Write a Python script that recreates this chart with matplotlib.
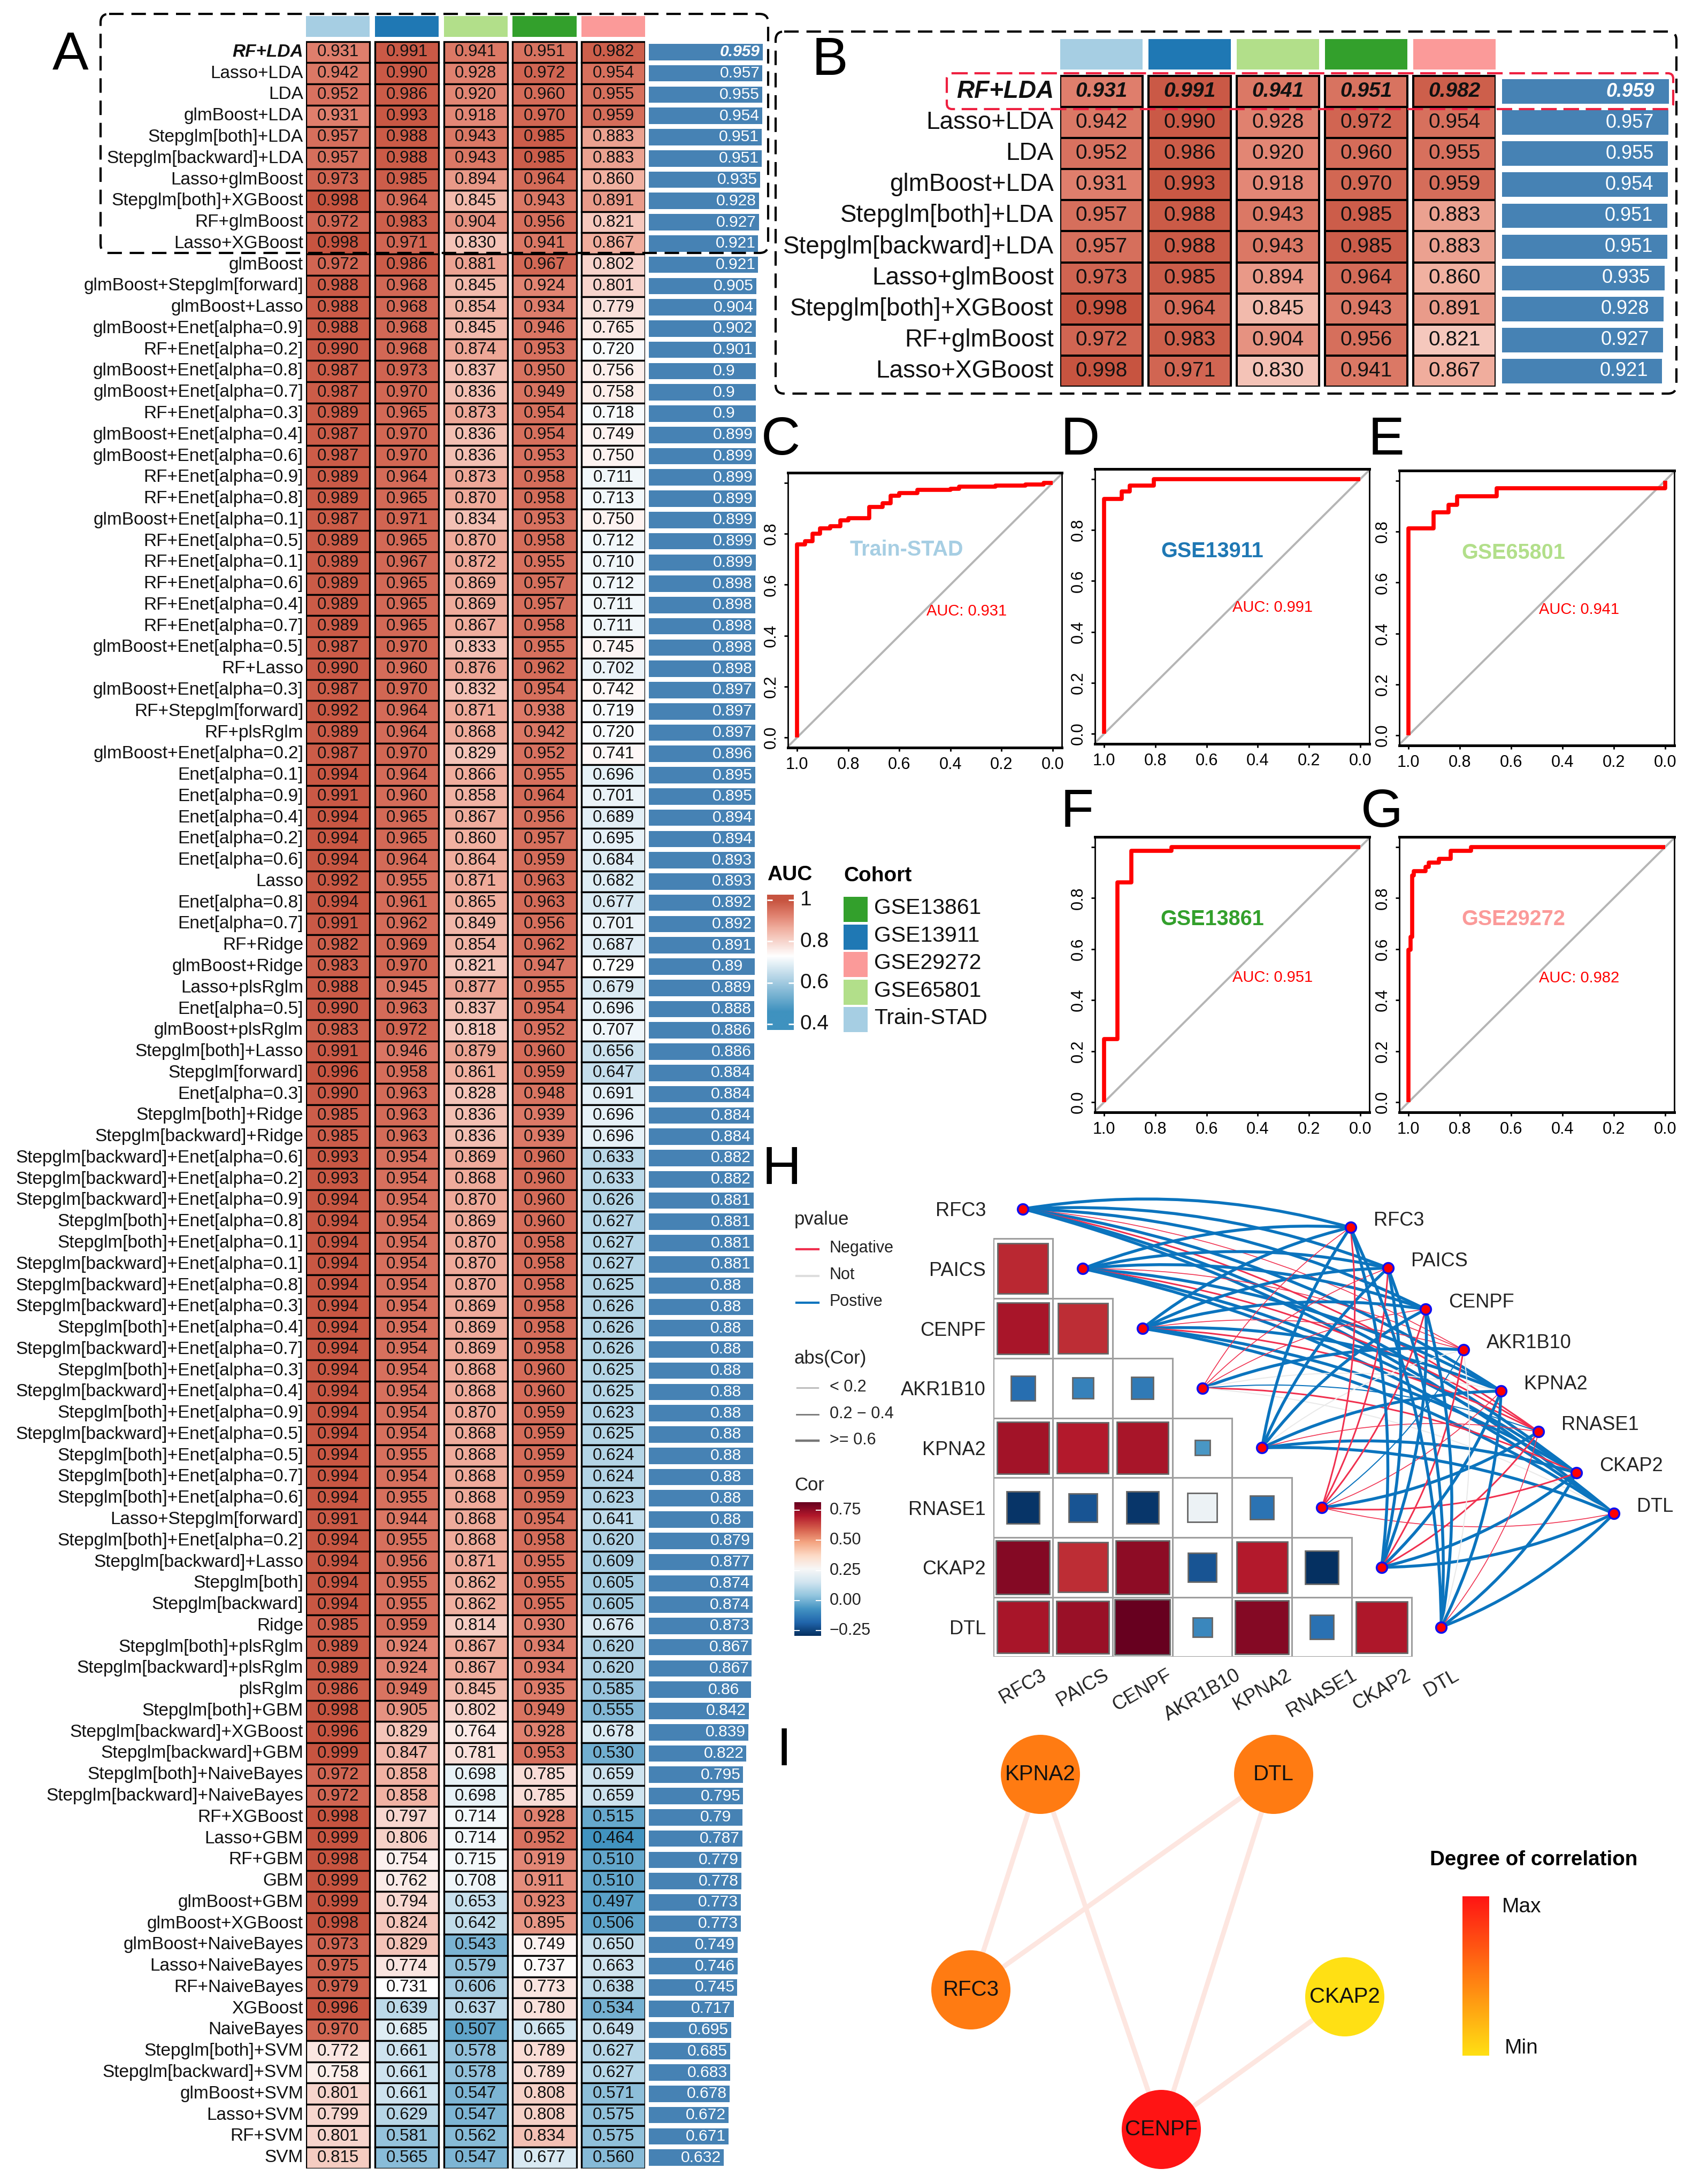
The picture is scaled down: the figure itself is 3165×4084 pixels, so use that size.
import matplotlib
matplotlib.use('Agg')
import matplotlib.pyplot as plt
import numpy as np
from matplotlib.colors import LinearSegmentedColormap, Normalize
from matplotlib.patches import Rectangle, FancyBboxPatch, PathPatch, Circle
from matplotlib.path import Path

plt.rcParams['font.family'] = ['Liberation Sans', 'DejaVu Sans']

W, H = 3165, 4084
PX = 72 / 100  # one pixel in points at dpi=100

# Panel A / B data
models = [
    'RF+LDA', 'Lasso+LDA', 'LDA', 'glmBoost+LDA', 'Stepglm[both]+LDA', 'Stepglm[backward]+LDA',
    'Lasso+glmBoost', 'Stepglm[both]+XGBoost', 'RF+glmBoost', 'Lasso+XGBoost', 'glmBoost',
    'glmBoost+Stepglm[forward]', 'glmBoost+Lasso', 'glmBoost+Enet[alpha=0.9]', 'RF+Enet[alpha=0.2]',
    'glmBoost+Enet[alpha=0.8]', 'glmBoost+Enet[alpha=0.7]', 'RF+Enet[alpha=0.3]', 'glmBoost+Enet[alpha=0.4]',
    'glmBoost+Enet[alpha=0.6]', 'RF+Enet[alpha=0.9]', 'RF+Enet[alpha=0.8]', 'glmBoost+Enet[alpha=0.1]',
    'RF+Enet[alpha=0.5]', 'RF+Enet[alpha=0.1]', 'RF+Enet[alpha=0.6]', 'RF+Enet[alpha=0.4]', 'RF+Enet[alpha=0.7]',
    'glmBoost+Enet[alpha=0.5]', 'RF+Lasso', 'glmBoost+Enet[alpha=0.3]', 'RF+Stepglm[forward]', 'RF+plsRglm',
    'glmBoost+Enet[alpha=0.2]', 'Enet[alpha=0.1]', 'Enet[alpha=0.9]', 'Enet[alpha=0.4]', 'Enet[alpha=0.2]',
    'Enet[alpha=0.6]', 'Lasso', 'Enet[alpha=0.8]', 'Enet[alpha=0.7]', 'RF+Ridge', 'glmBoost+Ridge', 'Lasso+plsRglm',
    'Enet[alpha=0.5]', 'glmBoost+plsRglm', 'Stepglm[both]+Lasso', 'Stepglm[forward]', 'Enet[alpha=0.3]',
    'Stepglm[both]+Ridge', 'Stepglm[backward]+Ridge', 'Stepglm[backward]+Enet[alpha=0.6]',
    'Stepglm[backward]+Enet[alpha=0.2]', 'Stepglm[backward]+Enet[alpha=0.9]', 'Stepglm[both]+Enet[alpha=0.8]',
    'Stepglm[both]+Enet[alpha=0.1]', 'Stepglm[backward]+Enet[alpha=0.1]', 'Stepglm[backward]+Enet[alpha=0.8]',
    'Stepglm[backward]+Enet[alpha=0.3]', 'Stepglm[both]+Enet[alpha=0.4]', 'Stepglm[backward]+Enet[alpha=0.7]',
    'Stepglm[both]+Enet[alpha=0.3]', 'Stepglm[backward]+Enet[alpha=0.4]', 'Stepglm[both]+Enet[alpha=0.9]',
    'Stepglm[backward]+Enet[alpha=0.5]', 'Stepglm[both]+Enet[alpha=0.5]', 'Stepglm[both]+Enet[alpha=0.7]',
    'Stepglm[both]+Enet[alpha=0.6]', 'Lasso+Stepglm[forward]', 'Stepglm[both]+Enet[alpha=0.2]',
    'Stepglm[backward]+Lasso', 'Stepglm[both]', 'Stepglm[backward]', 'Ridge', 'Stepglm[both]+plsRglm',
    'Stepglm[backward]+plsRglm', 'plsRglm', 'Stepglm[both]+GBM', 'Stepglm[backward]+XGBoost', 'Stepglm[backward]+GBM',
    'Stepglm[both]+NaiveBayes', 'Stepglm[backward]+NaiveBayes', 'RF+XGBoost', 'Lasso+GBM', 'RF+GBM', 'GBM',
    'glmBoost+GBM', 'glmBoost+XGBoost', 'glmBoost+NaiveBayes', 'Lasso+NaiveBayes', 'RF+NaiveBayes', 'XGBoost',
    'NaiveBayes', 'Stepglm[both]+SVM', 'Stepglm[backward]+SVM', 'glmBoost+SVM', 'Lasso+SVM', 'RF+SVM', 'SVM']

auc_train = [
    .931, .942, .952, .931, .957, .957, .973, .998, .972, .998, .972, .988, .988, .988, .990, .987, .987, .989, .987, .987,
    .989, .989, .987, .989, .989, .989, .989, .989, .987, .990, .987, .992, .989, .987, .994, .991, .994, .994, .994, .992,
    .994, .991, .982, .983, .988, .990, .983, .991, .996, .990, .985, .985, .993, .993, .994, .994, .994, .994, .994, .994,
    .994, .994, .994, .994, .994, .994, .994, .994, .994, .991, .994, .994, .994, .994, .985, .989, .989, .986, .998, .996,
    .999, .972, .972, .998, .999, .998, .999, .999, .998, .973, .975, .979, .996, .970, .772, .758, .801, .799, .801, .815]
auc_13911 = [
    .991, .990, .986, .993, .988, .988, .985, .964, .983, .971, .986, .968, .968, .968, .968, .973, .970, .965, .970, .970,
    .964, .965, .971, .965, .967, .965, .965, .965, .970, .960, .970, .964, .964, .970, .964, .960, .965, .965, .964, .955,
    .961, .962, .969, .970, .945, .963, .972, .946, .958, .963, .963, .963, .954, .954, .954, .954, .954, .954, .954, .954,
    .954, .954, .954, .954, .954, .954, .955, .954, .955, .944, .955, .956, .955, .955, .959, .924, .924, .949, .905, .829,
    .847, .858, .858, .797, .806, .754, .762, .794, .824, .829, .774, .731, .639, .685, .661, .661, .661, .629, .581, .565]
auc_65801 = [
    .941, .928, .920, .918, .943, .943, .894, .845, .904, .830, .881, .845, .854, .845, .874, .837, .836, .873, .836, .836,
    .873, .870, .834, .870, .872, .869, .869, .867, .833, .876, .832, .871, .868, .829, .866, .858, .867, .860, .864, .871,
    .865, .849, .854, .821, .877, .837, .818, .879, .861, .828, .836, .836, .869, .868, .870, .869, .870, .870, .870, .869,
    .869, .869, .868, .868, .870, .868, .868, .868, .868, .868, .868, .871, .862, .862, .814, .867, .867, .845, .802, .764,
    .781, .698, .698, .714, .714, .715, .708, .653, .642, .543, .579, .606, .637, .507, .578, .578, .547, .547, .562, .547]
auc_13861 = [
    .951, .972, .960, .970, .985, .985, .964, .943, .956, .941, .967, .924, .934, .946, .953, .950, .949, .954, .954, .953,
    .958, .958, .953, .958, .955, .957, .957, .958, .955, .962, .954, .938, .942, .952, .955, .964, .956, .957, .959, .963,
    .963, .956, .962, .947, .955, .954, .952, .960, .959, .948, .939, .939, .960, .960, .960, .960, .958, .958, .958, .958,
    .958, .958, .960, .960, .959, .959, .959, .959, .959, .954, .958, .955, .955, .955, .930, .934, .934, .935, .949, .928,
    .953, .785, .785, .928, .952, .919, .911, .923, .895, .749, .737, .773, .780, .665, .789, .789, .808, .808, .834, .677]
auc_29272 = [
    .982, .954, .955, .959, .883, .883, .860, .891, .821, .867, .802, .801, .779, .765, .720, .756, .758, .718, .749, .750,
    .711, .713, .750, .712, .710, .712, .711, .711, .745, .702, .742, .719, .720, .741, .696, .701, .689, .695, .684, .682,
    .677, .701, .687, .729, .679, .696, .707, .656, .647, .691, .696, .696, .633, .633, .626, .627, .627, .627, .625, .626,
    .626, .626, .625, .625, .623, .625, .624, .624, .623, .641, .620, .609, .605, .605, .676, .620, .620, .585, .555, .678,
    .530, .659, .659, .515, .464, .510, .510, .497, .506, .650, .663, .638, .534, .649, .627, .627, .571, .575, .575, .560]
auc_mean = [
    .959, .957, .955, .954, .951, .951, .935, .928, .927, .921, .921, .905, .904, .902, .901, .9, .9, .9, .899, .899,
    .899, .899, .899, .899, .899, .898, .898, .898, .898, .898, .897, .897, .897, .896, .895, .895, .894, .894, .893, .893,
    .892, .892, .891, .89, .889, .888, .886, .886, .884, .884, .884, .884, .882, .882, .881, .881, .881, .881, .88, .88,
    .88, .88, .88, .88, .88, .88, .88, .88, .88, .88, .879, .877, .874, .874, .873, .867, .867, .86, .842, .839,
    .822, .795, .795, .79, .787, .779, .778, .773, .773, .749, .746, .745, .717, .695, .685, .683, .678, .672, .671, .632]

cohort_cols = [auc_train, auc_13911, auc_65801, auc_13861, auc_29272]
cohort_names = ['Train-STAD', 'GSE13911', 'GSE65801', 'GSE13861', 'GSE29272']
cohort_colors = ['#A6CEE3', '#1F78B4', '#B2DF8A', '#33A02C', '#FB9A99']
legend_order = ['GSE13861', 'GSE13911', 'GSE29272', 'GSE65801', 'Train-STAD']

roc_spec = {
    'Train-STAD': [1, 1, .97, .94, .91, .87, .83, .80, .718, .666, .635, .60, .53, .40, .365, .223, .106, .035, 0],
    'GSE13911': [1, 1, .932, .90, .807, 0],
    'GSE65801': [1, 1, .903, .844, .811, .657, 0, 0],
    'GSE13861': [1, 1, .948, .894, .738, 0],
    'GSE29272': [1, 1, .993, .986, .979, .934, .922, .882, .835, .757, 0]}
roc_sens = {
    'Train-STAD': [0, .758, .772, .80, .822, .83, .854, .861, .905, .92, .95, .96, .972, .976, .986, .989, .993, 1, 1],
    'GSE13911': [0, .923, .951, .975, 1, 1],
    'GSE65801': [0, .813, .876, .906, .939, .97, .97, 1],
    'GSE13861': [0, .247, .861, .986, 1, 1],
    'GSE29272': [0, .597, .648, .888, .906, .923, .939, .955, .986, 1, 1]}
roc_auc = {'Train-STAD': '0.931', 'GSE13911': '0.991', 'GSE65801': '0.941', 'GSE13861': '0.951', 'GSE29272': '0.982'}

# Panel H data, lower triangle of the correlation matrix
genes = ['RFC3', 'PAICS', 'CENPF', 'AKR1B10', 'KPNA2', 'RNASE1', 'CKAP2', 'DTL']
cor_rows = [
    [],
    [.68],
    [.72, .67],
    [-.16, -.116, -.13],
    [.73, .70, .72, -.06],
    [-.283, -.216, -.28, .23, -.15],
    [.77, .67, .76, -.22, .70, -.29],
    [.72, .74, .817, -.10, .77, -.155, .71]]
right_x = [5.98, 6.61, 7.24, 7.87, 8.50, 9.13, 9.76, 10.39]
right_y = [.31, .99, 1.68, 2.36, 3.05, 3.73, 4.42, 5.10]

# Panel I data
hub_names = ['KPNA2', 'DTL', 'RFC3', 'CKAP2', 'CENPF']
hub_x = [1945, 2381, 1815, 2514, 2171]
hub_y = [3318, 3318, 3721, 3734, 3982]
hub_degree = [2, 2, 2, 1, 3]
hub_edges = [(0, 2), (0, 4), (1, 2), (1, 4), (3, 4)]

# the red half is not straight in RGB, so it gets two extra stops
auc_cmap = LinearSegmentedColormap.from_list(
    'auc', [(0, '#3F92BF'), (.5, '#FFFFFF'), (.75, '#F0AE9E'), (.87, '#E0806E'), (1, '#C75440')])
auc_norm = Normalize(.46, 1.0)
cor_cmap = plt.get_cmap('RdBu_r')
cor_norm = Normalize(-.294, .817)
deg_cmap = LinearSegmentedColormap.from_list('deg', ['#FFE014', '#FF7B12', '#FF1414'])

fig = plt.figure(figsize=(W / 100, H / 100), dpi=100)


def add_ax(x0, y0, x1, y1):
    return fig.add_axes([x0 / W, 1 - y1 / H, (x1 - x0) / W, (y1 - y0) / H])


def draw_table(n, left, pitch, cell_w, top, row_h, bar_left, bar_scale, bar_h, lab_size, cell_size, bar_size,
               lab_gap, text_shift, bold_cells, edge_lw):
    cols_w = 4 + cell_w
    ax = add_ax(left, top - 1.8 * row_h, left + cols_w * pitch, top + n * row_h)
    ax.set_xlim(0, cols_w)
    ax.set_ylim(n - .5, -.5 - 1.8)
    ax.axis('off')
    rows = np.arange(n)
    for j, vals in enumerate(cohort_cols):
        vals = np.array(vals[:n])
        ax.barh(rows, cell_w, left=j, height=1, color=auc_cmap(auc_norm(vals)), edgecolor='black', linewidth=edge_lw)
        ax.barh(-1.2, cell_w, left=j, height=.98, color=cohort_colors[j])
        for i in rows:
            st = 'italic' if (bold_cells and i == 0) else 'normal'
            wt = 'bold' if (bold_cells and i == 0) else 'normal'
            ax.text(j + cell_w / 2, i, '%.3f' % vals[i], ha='center', va='center', fontsize=cell_size,
                    style=st, weight=wt, color='#111111')
    for i in rows:
        st = 'italic' if i == 0 else 'normal'
        wt = 'bold' if i == 0 else 'normal'
        ax.text(-lab_gap / pitch, i, models[i], ha='right', va='center', fontsize=lab_size, style=st, weight=wt,
                color='#111111', clip_on=False)
    bx = add_ax(bar_left, top - 1.8 * row_h, bar_left + bar_scale, top + n * row_h)
    bx.set_xlim(0, 1)
    bx.set_ylim(n - .5, -.5 - 1.8)
    bx.axis('off')
    bx.barh(rows, auc_mean[:n], height=bar_h, color='#4682B4')
    for i in rows:
        st = 'italic' if i == 0 else 'normal'
        wt = 'bold' if i == 0 else 'normal'
        bx.text(auc_mean[i] - text_shift / bar_scale, i, str(auc_mean[i]), ha='left', va='center', fontsize=bar_size,
                color='white', style=st, weight=wt)


# Panel A, all 100 models
draw_table(100, 572, 128.75, .928, 77.5, 39.77, 1213, 222, .77, 24, 22.5, 21.6, 5, 80, False, 2.4)
# Panel B, top ten
draw_table(10, 1982, 165, .933, 142, 58.1, 2808, 325, .79, 33, 28, 26, 12, 117, True, 2.9)


def draw_roc(name, x0, x1, y0, y1, lab_pos, auc_pos):
    ax = add_ax(x0, y0, x1, y1)
    ax.set_xlim(1.036, -.036)
    ax.set_ylim(-.04, 1.04)
    ax.plot([1.036, -.036], [-.036, 1.036], color='#B5B5B5', lw=2.8)
    ax.step(roc_spec[name], roc_sens[name], where='post', color='#FF0000', lw=5.5, solid_capstyle='butt')
    ax.set_xticks([1, .8, .6, .4, .2, 0])
    ax.set_xticklabels(['1.0', '0.8', '0.6', '0.4', '0.2', '0.0'], fontsize=22)
    ax.set_yticks([0, .2, .4, .6, .8, 1])
    ax.set_yticklabels(['0.0', '0.2', '0.4', '0.6', '0.8', ''], fontsize=22, rotation=90, va='center')
    ax.tick_params(axis='both', length=5, width=2, pad=7)
    for s in ['top', 'bottom']:
        ax.spines[s].set_linewidth(3.6)
    for s in ['left', 'right']:
        ax.spines[s].set_linewidth(2)
    ax.text(lab_pos[0], lab_pos[1], name, color=cohort_colors[cohort_names.index(name)], fontsize=28.5, weight='bold',
            ha='center', va='center')
    ax.text(auc_pos[0], auc_pos[1], 'AUC: ' + roc_auc[name], color='#FF0000', fontsize=21, ha='center', va='center')


draw_roc('Train-STAD', 1473, 1985, 884, 1398, (.572, .737), (.336, .495))
draw_roc('GSE13911', 2047, 2560, 877, 1391, (.578, .716), (.342, .495))
draw_roc('GSE65801', 2616, 3130, 880, 1394, (.591, .716), (.336, .493))
draw_roc('GSE13861', 2047, 2560, 1565, 2080, (.578, .718), (.342, .488))
draw_roc('GSE29272', 2616, 3130, 1565, 2080, (.591, .718), (.336, .487))

# Panel H, correlation squares plus the curved links
cell = 111.7
hx = add_ax(1856.6, 2193.6, 3100, 3098.4)
hx.set_xlim(0, (3100 - 1856.6) / cell)
hx.set_ylim(7.5, -.6)
for s in hx.spines.values():
    s.set_visible(False)
hx.set_yticks(range(8))
hx.set_yticklabels(genes, fontsize=26, color='#222222')
hx.set_xticks(np.arange(8) + .5)
hx.set_xticklabels(genes, fontsize=26, rotation=30, ha='center', va='top', color='#222222')
hx.tick_params(length=0)
hx.tick_params(axis='y', pad=9.8)
hx.tick_params(axis='x', pad=12)

for i, row in enumerate(cor_rows):
    for j, r in enumerate(row):
        hx.add_patch(Rectangle((j, i - .5), 1, 1, fc='white', ec='#9E9E9E', lw=2.2))
        side = min(1.02 * np.sqrt(abs(r)), .97)
        hx.add_patch(Rectangle((j + .5 - side / 2, i - side / 2), side, side, fc=cor_cmap(cor_norm(r)),
                               ec='#666666', lw=2))

for i in range(8):
    for j in range(8):
        if i == j:
            r = 1.0
        elif i > j:
            r = cor_rows[i][j]
        else:
            r = cor_rows[j][i]
        if abs(r) < .11:
            col, lw = '#E9E9E9', 2
        elif r < 0:
            col, lw = '#F0304F', 3 if abs(r) >= .2 else 1.6
        else:
            col, lw = '#0B74BE', 5.5 if r >= .6 else 2
        p0 = np.array([i + .5, i], dtype=float)
        p1 = np.array([right_x[j], right_y[j]])
        d = p1 - p0
        # rows above RNASE1 bow upward, the lower ones bow downward
        sign = 1 if i <= 4 else -1
        ctrl = (p0 + p1) / 2 + sign * .11 * np.array([d[1], -d[0]])
        path = Path([p0, ctrl, p1], [Path.MOVETO, Path.CURVE3, Path.CURVE3])
        hx.add_patch(PathPatch(path, fc='none', ec=col, lw=lw * PX, clip_on=False))

hx.scatter(np.arange(8) + .5, range(8), s=200, c='#FF0000', edgecolors='#1010F0', linewidths=2.6, zorder=5, clip_on=False)
hx.scatter(right_x, right_y, s=200, c='#FF0000', edgecolors='#1010F0', linewidths=2.6, zorder=5, clip_on=False)
for k, g in enumerate(genes):
    hx.text(right_x[k] + .385, right_y[k] - .115, g, fontsize=26, ha='left', va='center', color='#222222', clip_on=False)

# Panel I, hub network
ix = add_ax(1700, 3200, 3100, 4084)
ix.set_xlim(1700, 3100)
ix.set_ylim(4084, 3200)
ix.axis('off')
for a, b in hub_edges:
    ix.plot([hub_x[a], hub_x[b]], [hub_y[a], hub_y[b]], color='#FDE6E0', lw=6.5, zorder=1)
for k, name in enumerate(hub_names):
    ix.add_patch(Circle((hub_x[k], hub_y[k]), 74, fc=deg_cmap((hub_degree[k] - 1) / 2), ec='none', zorder=2))
    ix.text(hub_x[k], hub_y[k], name, fontsize=29, ha='center', va='center', color='#111111', zorder=3)

# Colour bars
ab = add_ax(1434, 1673, 1484, 1926)
ab.imshow(np.linspace(1.026, .372, 256)[:, None], aspect='auto', cmap=auc_cmap, norm=auc_norm,
          extent=[0, 1, .372, 1.026])
ab.axis('off')
ab.hlines([1, .8, .6, .4], 0, .2, color='white', lw=2)
ab.hlines([1, .8, .6, .4], .8, 1, color='white', lw=2)

cb = add_ax(1485, 2809, 1535, 3059)
cb.imshow(np.linspace(.817, -.294, 256)[:, None], aspect='auto', cmap=cor_cmap, norm=cor_norm,
          extent=[0, 1, -.294, .817])
cb.axis('off')
cb.hlines([.75, .5, .25, 0, -.25], 0, .2, color='white', lw=1.4)
cb.hlines([.75, .5, .25, 0, -.25], .8, 1, color='white', lw=1.4)

db = add_ax(2734, 3546, 2784, 3844)
db.imshow(np.linspace(1, 0, 256)[:, None], aspect='auto', cmap=deg_cmap, extent=[0, 1, 0, 1])
db.axis('off')

# Overlay in pixels for frames, panel letters and legends
ov = fig.add_axes([0, 0, 1, 1])
ov.set_xlim(0, W)
ov.set_ylim(H, 0)
ov.axis('off')
ov.patch.set_alpha(0)
ov.set_zorder(10)

ov.add_patch(FancyBboxPatch((188, 26), 1248, 447, boxstyle='round,pad=0,rounding_size=16', fc='none', ec='black',
                            lw=3, ls=(0, (6.5, 3.5))))
ov.add_patch(FancyBboxPatch((1450, 59), 1684, 677, boxstyle='round,pad=0,rounding_size=16', fc='none', ec='black',
                            lw=3, ls=(0, (6.5, 3.5))))
ov.add_patch(FancyBboxPatch((1770, 137), 1358, 67, boxstyle='round,pad=0,rounding_size=10', fc='none', ec='#EE2040',
                            lw=3, ls=(0, (7, 3))))

letters = ['A', 'B', 'C', 'D', 'E', 'F', 'G', 'H', 'I']
letter_x = [98, 1518, 1423, 1983, 2558, 1983, 2544, 1425, 1452]
letter_y = [130, 140, 850, 850, 850, 1546, 1546, 2214, 3301]
for t, x, y in zip(letters, letter_x, letter_y):
    ov.text(x, y, t, fontsize=73, ha='left', va='baseline', color='black')

# AUC and cohort legend
ov.text(1434, 1636, 'AUC', fontsize=28, weight='bold', ha='left', va='center')
for lab, y in zip(['1', '0.8', '0.6', '0.4'], [1683, 1761, 1838, 1915]):
    ov.text(1496, y, lab, fontsize=28, ha='left', va='center', color='#111111')
ov.text(1577, 1638, 'Cohort', fontsize=28, weight='bold', ha='left', va='center')
for k, name in enumerate(legend_order):
    y = 1677 + k * 51.5
    ov.add_patch(Rectangle((1577, y), 45, 47, fc=cohort_colors[cohort_names.index(name)], ec='none'))
    ov.text(1634, y + 21, name, fontsize=29.5, ha='left', va='center', color='#111111')

# H legends
ov.text(1485, 2280, 'pvalue', fontsize=25, ha='left', va='center', color='#222222')
for lab, y, col in zip(['Negative', 'Not', 'Postive'], [2336, 2386, 2436], ['#F0304F', '#DDDDDD', '#0B74BE']):
    ov.plot([1489, 1530], [y, y], color=col, lw=3)
    ov.text(1551, y - 2, lab, fontsize=22, ha='left', va='center', color='#222222')
ov.text(1485, 2540, 'abs(Cor)', fontsize=25, ha='left', va='center', color='#222222')
for lab, y, lw in zip(['< 0.2', '0.2 \u2212 0.4', '>= 0.6'], [2595, 2645, 2694], [1, 2, 3.2]):
    ov.plot([1489, 1530], [y, y], color='#777777', lw=lw)
    ov.text(1551, y - 1, lab, fontsize=22, ha='left', va='center', color='#222222')
ov.text(1485, 2777, 'Cor', fontsize=25, ha='left', va='center', color='#222222')
for lab, y in zip(['0.75', '0.50', '0.25', '0.00', '\u22120.25'], [2824, 2880, 2937, 2993, 3049]):
    ov.text(1551, y, lab, fontsize=22, ha='left', va='center', color='#222222')

# I legend
ov.text(2867, 3478, 'Degree of correlation', fontsize=27.8, weight='bold', ha='center', va='center')
ov.text(2808, 3566, 'Max', fontsize=28, ha='left', va='center', color='#111111')
ov.text(2813, 3830, 'Min', fontsize=28, ha='left', va='center', color='#111111')

fig.savefig('out.png', dpi=100, facecolor='white')
print('saved out.png')
